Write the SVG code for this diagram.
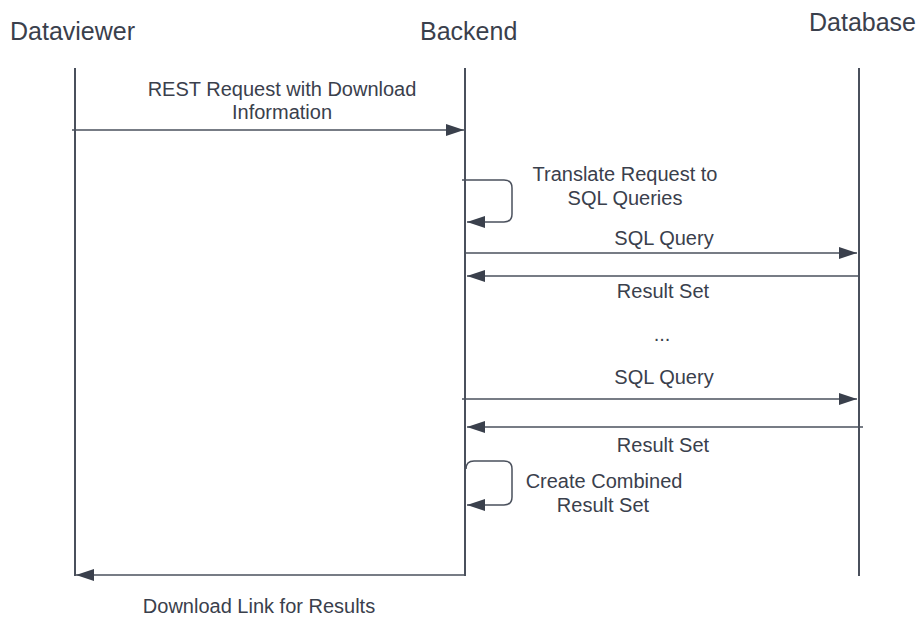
<svg xmlns="http://www.w3.org/2000/svg" width="917" height="619" viewBox="0 0 917 619">
  <defs>
    <marker id="head" viewBox="0 0 18 12" refX="18" refY="6" markerWidth="18" markerHeight="12" markerUnits="userSpaceOnUse" orient="auto">
      <path d="M0,0 L18,6 L0,12 Z" fill="#3a404c"/>
    </marker>
    <style>
      .title { font-family: "Liberation Sans", Arial, sans-serif; font-size: 25px; fill: #3a404c; }
      .label { font-family: "Liberation Sans", Arial, sans-serif; font-size: 20px; fill: #3a404c; text-anchor: middle; }
      .life { stroke: #4a505c; stroke-width: 2; fill: none; }
      .msg { stroke: #4a505c; stroke-width: 1.5; fill: none; marker-end: url(#head); }
    </style>
  </defs>
  <rect width="917" height="619" fill="#ffffff"/>

  <!-- participants with their lifelines -->
  <g id="dataviewer">
    <text class="title" x="10" y="40">Dataviewer</text>
    <line class="life" x1="75" y1="68" x2="75" y2="576"/>
  </g>
  <g id="backend">
    <text class="title" x="420" y="40">Backend</text>
    <line class="life" x1="465" y1="68" x2="465" y2="576"/>
  </g>
  <g id="database">
    <text class="title" x="809" y="31">Database</text>
    <line class="life" x1="859" y1="68" x2="859" y2="576"/>
  </g>

  <!-- messages -->
  <g id="connectors">
    <line class="msg" x1="72" y1="130" x2="464" y2="130"/>
    <path class="msg" d="M462,180 H504 Q512,180 512,188 V214 Q512,222 504,222 H467"/>
    <line class="msg" x1="465" y1="253" x2="857" y2="253"/>
    <line class="msg" x1="859" y1="276" x2="467" y2="276"/>
    <line class="msg" x1="462" y1="399" x2="857" y2="399"/>
    <line class="msg" x1="863" y1="427" x2="467" y2="427"/>
    <path class="msg" d="M466,469 Q466,461 474,461 H504 Q512,461 512,469 V497 Q512,505 504,505 H467"/>
    <line class="msg" x1="465" y1="575" x2="76" y2="575"/>
  </g>

  <!-- message labels -->
  <g id="labels">
    <text class="label" x="282" y="96">REST Request with Download</text>
    <text class="label" x="282" y="119">Information</text>
    <text class="label" x="625" y="181">Translate Request to</text>
    <text class="label" x="625" y="205">SQL Queries</text>
    <text class="label" x="664" y="245">SQL Query</text>
    <text class="label" x="663" y="298">Result Set</text>
    <text class="label" x="662" y="341">...</text>
    <text class="label" x="664" y="384">SQL Query</text>
    <text class="label" x="663" y="452">Result Set</text>
    <text class="label" x="604" y="488">Create Combined</text>
    <text class="label" x="603" y="512">Result Set</text>
    <text class="label" x="259" y="613">Download Link for Results</text>
  </g>
</svg>
